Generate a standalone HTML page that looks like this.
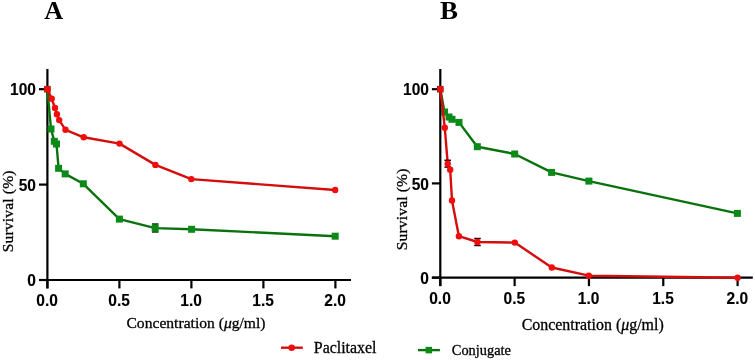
<!DOCTYPE html>
<html><head><meta charset="utf-8"><style>
html,body{margin:0;padding:0;background:#fff;}
body{width:755px;height:360px;overflow:hidden;}
svg{display:block;will-change:transform;}
.tk{font-family:"Liberation Sans",sans-serif;font-weight:bold;font-size:16px;fill:#000;stroke:#000;stroke-width:0.12px;}
.pl{font-family:"Liberation Serif",serif;font-weight:bold;font-size:26.6px;fill:#000;}
.yl{font-family:"Liberation Serif",serif;font-size:15.6px;letter-spacing:0.15px;fill:#000;stroke:#000;stroke-width:0.3px;}
.xl{font-family:"Liberation Serif",serif;font-size:15.6px;fill:#000;stroke:#000;stroke-width:0.3px;}
.lg{font-family:"Liberation Serif",serif;font-size:15.9px;fill:#000;stroke:#000;stroke-width:0.3px;}
.lg2{font-family:"Liberation Serif",serif;font-size:14.4px;fill:#000;stroke:#000;stroke-width:0.3px;}
</style></head><body>
<svg width="755" height="360" viewBox="0 0 755 360">
<line x1="47.4" y1="69" x2="47.4" y2="288.4" stroke="#000" stroke-width="2.2"/>
<line x1="39.0" y1="280.0" x2="351" y2="280.0" stroke="#000" stroke-width="2.2"/>
<line x1="39.0" y1="89.2" x2="47.4" y2="89.2" stroke="#000" stroke-width="2.2"/>
<text transform="translate(36.00,95.30) scale(0.97,1)" text-anchor="end" class="tk">100</text>
<line x1="39.0" y1="184.6" x2="47.4" y2="184.6" stroke="#000" stroke-width="2.2"/>
<text transform="translate(36.00,190.70) scale(0.97,1)" text-anchor="end" class="tk">50</text>
<line x1="39.0" y1="280" x2="47.4" y2="280" stroke="#000" stroke-width="2.2"/>
<text transform="translate(36.00,286.10) scale(0.97,1)" text-anchor="end" class="tk">0</text>
<line x1="47.4" y1="280.0" x2="47.4" y2="288.4" stroke="#000" stroke-width="2.2"/>
<text transform="translate(47.10,306.40) scale(0.97,1)" text-anchor="middle" class="tk">0.0</text>
<line x1="119.4" y1="280.0" x2="119.4" y2="288.4" stroke="#000" stroke-width="2.2"/>
<text transform="translate(119.10,306.40) scale(0.97,1)" text-anchor="middle" class="tk">0.5</text>
<line x1="191.4" y1="280.0" x2="191.4" y2="288.4" stroke="#000" stroke-width="2.2"/>
<text transform="translate(191.10,306.40) scale(0.97,1)" text-anchor="middle" class="tk">1.0</text>
<line x1="263.4" y1="280.0" x2="263.4" y2="288.4" stroke="#000" stroke-width="2.2"/>
<text transform="translate(263.10,306.40) scale(0.97,1)" text-anchor="middle" class="tk">1.5</text>
<line x1="335.4" y1="280.0" x2="335.4" y2="288.4" stroke="#000" stroke-width="2.2"/>
<text transform="translate(335.10,306.40) scale(0.97,1)" text-anchor="middle" class="tk">2.0</text>
<polyline points="47.4,89.2 51,129 54.3,141.3 56.5,144 58.6,168.3 65.2,173.9 83.3,183.8 119.4,219.1 155.2,228.1 191.6,229.3 335.2,236.2" fill="none" stroke="#0a720c" stroke-width="2.4" stroke-linejoin="round"/>
<line x1="155.3" y1="224.0" x2="155.3" y2="232.0" stroke="#0b8a17" stroke-width="3.5"/><line x1="152.0" y1="224.0" x2="158.60000000000002" y2="224.0" stroke="#0a3a0a" stroke-width="1.5"/><line x1="152.0" y1="232.0" x2="158.60000000000002" y2="232.0" stroke="#0a3a0a" stroke-width="1.5"/>
<rect x="44.10" y="85.90" width="6.6" height="6.6" fill="#7a2a10"/>
<rect x="47.50" y="125.50" width="7" height="7" fill="#0b8a17"/>
<rect x="50.80" y="137.80" width="7" height="7" fill="#0b8a17"/>
<rect x="53.00" y="140.50" width="7" height="7" fill="#0b8a17"/>
<rect x="55.10" y="164.80" width="7" height="7" fill="#0b8a17"/>
<rect x="61.70" y="170.40" width="7" height="7" fill="#0b8a17"/>
<rect x="79.80" y="180.30" width="7" height="7" fill="#0b8a17"/>
<rect x="115.90" y="215.60" width="7" height="7" fill="#0b8a17"/>
<rect x="151.70" y="224.60" width="7" height="7" fill="#0b8a17"/>
<rect x="188.10" y="225.80" width="7" height="7" fill="#0b8a17"/>
<rect x="331.70" y="232.70" width="7" height="7" fill="#0b8a17"/>
<polyline points="47.4,89.2 51.7,98.8 55,108 56.9,114.3 59.2,120.1 65.5,129.8 83.7,137.3 119.5,143.6 155.4,164.9 191.3,179.1 335.2,190" fill="none" stroke="#d40d0d" stroke-width="2.4" stroke-linejoin="round"/>
<circle cx="47.4" cy="89.2" r="3.2" fill="#f20d0d"/>
<circle cx="51.7" cy="98.8" r="3.2" fill="#f20d0d"/>
<circle cx="55" cy="108" r="3.2" fill="#f20d0d"/>
<circle cx="56.9" cy="114.3" r="3.2" fill="#f20d0d"/>
<circle cx="59.2" cy="120.1" r="3.2" fill="#f20d0d"/>
<circle cx="65.5" cy="129.8" r="3.2" fill="#f20d0d"/>
<circle cx="83.7" cy="137.3" r="3.2" fill="#f20d0d"/>
<circle cx="119.5" cy="143.6" r="3.2" fill="#f20d0d"/>
<circle cx="155.4" cy="164.9" r="3.2" fill="#f20d0d"/>
<circle cx="191.3" cy="179.1" r="3.2" fill="#f20d0d"/>
<circle cx="335.2" cy="190" r="3.2" fill="#f20d0d"/>
<line x1="440.3" y1="69" x2="440.3" y2="286.09999999999997" stroke="#000" stroke-width="2.2"/>
<line x1="431.90000000000003" y1="277.7" x2="752.8" y2="277.7" stroke="#000" stroke-width="2.2"/>
<line x1="431.90000000000003" y1="89.2" x2="440.3" y2="89.2" stroke="#000" stroke-width="2.2"/>
<text transform="translate(428.90,95.30) scale(0.97,1)" text-anchor="end" class="tk">100</text>
<line x1="431.90000000000003" y1="183.4" x2="440.3" y2="183.4" stroke="#000" stroke-width="2.2"/>
<text transform="translate(428.90,189.50) scale(0.97,1)" text-anchor="end" class="tk">50</text>
<line x1="431.90000000000003" y1="277.7" x2="440.3" y2="277.7" stroke="#000" stroke-width="2.2"/>
<text transform="translate(428.90,283.80) scale(0.97,1)" text-anchor="end" class="tk">0</text>
<line x1="440.3" y1="277.7" x2="440.3" y2="286.09999999999997" stroke="#000" stroke-width="2.2"/>
<text transform="translate(440.00,304.10) scale(0.97,1)" text-anchor="middle" class="tk">0.0</text>
<line x1="514.625" y1="277.7" x2="514.625" y2="286.09999999999997" stroke="#000" stroke-width="2.2"/>
<text transform="translate(514.33,304.10) scale(0.97,1)" text-anchor="middle" class="tk">0.5</text>
<line x1="588.95" y1="277.7" x2="588.95" y2="286.09999999999997" stroke="#000" stroke-width="2.2"/>
<text transform="translate(588.65,304.10) scale(0.97,1)" text-anchor="middle" class="tk">1.0</text>
<line x1="663.2750000000001" y1="277.7" x2="663.2750000000001" y2="286.09999999999997" stroke="#000" stroke-width="2.2"/>
<text transform="translate(662.98,304.10) scale(0.97,1)" text-anchor="middle" class="tk">1.5</text>
<line x1="737.6" y1="277.7" x2="737.6" y2="286.09999999999997" stroke="#000" stroke-width="2.2"/>
<text transform="translate(737.30,304.10) scale(0.97,1)" text-anchor="middle" class="tk">2.0</text>
<polyline points="440.3,89.2 444.5,112 449,117 452,119.3 459,122.4 477.3,146.7 514.7,154 551.6,172.4 588.9,181.1 737.4,213.4" fill="none" stroke="#0a720c" stroke-width="2.4" stroke-linejoin="round"/>
<rect x="437.00" y="85.90" width="6.6" height="6.6" fill="#7a2a10"/>
<rect x="441.00" y="108.50" width="7" height="7" fill="#0b8a17"/>
<rect x="445.50" y="113.50" width="7" height="7" fill="#0b8a17"/>
<rect x="448.50" y="115.80" width="7" height="7" fill="#0b8a17"/>
<rect x="455.50" y="118.90" width="7" height="7" fill="#0b8a17"/>
<rect x="473.80" y="143.20" width="7" height="7" fill="#0b8a17"/>
<rect x="511.20" y="150.50" width="7" height="7" fill="#0b8a17"/>
<rect x="548.10" y="168.90" width="7" height="7" fill="#0b8a17"/>
<rect x="585.40" y="177.60" width="7" height="7" fill="#0b8a17"/>
<rect x="733.90" y="209.90" width="7" height="7" fill="#0b8a17"/>
<polyline points="440.3,89.2 444.8,127.8 447.7,163.7 450.2,169.7 452,200.4 458.9,236.2 477.4,242 514.8,242.6 551.8,267.5 588.8,275.7 737.6,277.8" fill="none" stroke="#d40d0d" stroke-width="2.4" stroke-linejoin="round"/>
<line x1="447.7" y1="160.3" x2="447.7" y2="167.1" stroke="#f20d0d" stroke-width="3.5"/><line x1="444.4" y1="160.3" x2="451.0" y2="160.3" stroke="#2a0202" stroke-width="1.5"/><line x1="444.4" y1="167.1" x2="451.0" y2="167.1" stroke="#2a0202" stroke-width="1.5"/>
<line x1="477.5" y1="238.5" x2="477.5" y2="245.5" stroke="#f20d0d" stroke-width="3.5"/><line x1="474.2" y1="238.5" x2="480.8" y2="238.5" stroke="#2a0202" stroke-width="1.5"/><line x1="474.2" y1="245.5" x2="480.8" y2="245.5" stroke="#2a0202" stroke-width="1.5"/>
<circle cx="440.3" cy="89.2" r="3.2" fill="#f20d0d"/>
<circle cx="444.8" cy="127.8" r="3.2" fill="#f20d0d"/>
<circle cx="447.7" cy="163.7" r="3.2" fill="#f20d0d"/>
<circle cx="450.2" cy="169.7" r="3.2" fill="#f20d0d"/>
<circle cx="452" cy="200.4" r="3.2" fill="#f20d0d"/>
<circle cx="458.9" cy="236.2" r="3.2" fill="#f20d0d"/>
<circle cx="477.4" cy="242" r="3.2" fill="#f20d0d"/>
<circle cx="514.8" cy="242.6" r="3.2" fill="#f20d0d"/>
<circle cx="551.8" cy="267.5" r="3.2" fill="#f20d0d"/>
<circle cx="588.8" cy="275.7" r="3.2" fill="#f20d0d"/>
<circle cx="737.6" cy="277.8" r="3.2" fill="#f20d0d"/>
<text x="44.3" y="19.1" class="pl" style="font-size:26.2px">A</text>
<text transform="translate(439.9,19.1) scale(1.04,1)" class="pl" style="font-size:26px">B</text>
<text transform="translate(12.8,211.3) rotate(-90)" text-anchor="middle" class="yl">Survival (%)</text>
<text transform="translate(407,209.4) rotate(-90)" text-anchor="middle" class="yl">Survival (%)</text>
<text x="196" y="327.8" text-anchor="middle" class="xl">Concentration (<tspan font-style="italic">μ</tspan>g/ml)</text>
<text x="592.7" y="329.9" text-anchor="middle" class="xl" style="font-size:15.95px">Concentration (<tspan font-style="italic">μ</tspan>g/ml)</text>
<line x1="281" y1="347.7" x2="302.8" y2="347.7" stroke="#d40d0d" stroke-width="2.4"/>
<circle cx="291.7" cy="347.7" r="3.3" fill="#f20d0d"/>
<text x="313.8" y="352.6" class="lg">Paclitaxel</text>
<line x1="418" y1="350.1" x2="439.9" y2="350.1" stroke="#0a720c" stroke-width="2.4"/>
<rect x="425.55" y="346.85" width="6.5" height="6.5" fill="#0b8a17"/>
<text x="451.8" y="355.2" class="lg2">Conjugate</text>
</svg>
</body></html>
